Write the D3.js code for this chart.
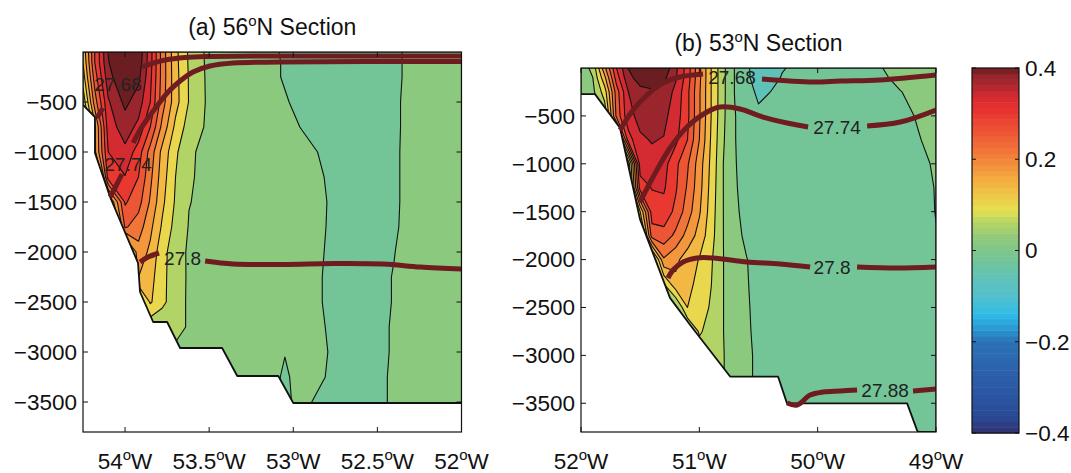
<!DOCTYPE html>
<html><head><meta charset="utf-8">
<script src="https://cdn.jsdelivr.net/npm/d3@7"></script>
<style>
body{margin:0;background:#fff}
svg{display:block}
text{font-family:"Liberation Sans",Arial,Helvetica,sans-serif;fill:#111}
</style>
</head><body>
<svg id="chart" width="1071" height="473"></svg>
<script>
// ---------------- DATA ----------------
const levels = [-0.08,-0.04,0,0.04,0.08,0.12,0.16,0.20,0.24,0.28,0.32,0.36,0.40];
const cmapValues = [-0.40,-0.37,-0.32,-0.26,-0.20,-0.17,-0.14,-0.10,-0.06,-0.03,0.00,0.03,0.06,0.09,0.11,0.15,0.19,0.23,0.27,0.31,0.34,0.36,0.38,0.40];
const cmapColors = ["#32306c","#2a4792","#2a55a2","#2c62ad","#2b72b6","#2a9ad4","#30bce8","#54c0cc","#5fc2b8","#6ec49e","#7ec68a","#92ca7a","#b2d466","#e6e050","#ebd04a","#f4b040","#f38d3b","#f06c37","#ec4e34","#e8312f","#d42a31","#b0262e","#9a252c","#6b1e21"];
const cbarTicks = [0.4,0.2,0,-0.2,-0.4];
const cbarTickLabels = ["0.4","0.2","0","\u22120.2","\u22120.4"];
const depthTicks = [500,1000,1500,2000,2500,3000,3500];
const depthTickLabels = ["\u2212500","\u22121000","\u22121500","\u22122000","\u22122500","\u22123000","\u22123500"];

// panel (a) 56N
const aLon = [-54.25,-54.18,-54.10,-54.00,-53.92,-53.85,-53.78,-53.70,-53.62,-53.50,-53.35,-53.20,-53.05,-52.95,-52.85,-52.75,-52.55,-52.40,-52.30,-52.15,-52.00];
const aDepth = [0,100,250,500,750,1000,1250,1500,1750,2000,2250,2500,2750,3000,3250,3500,3800];
const aVal = [
 [.13,.28,.401,.46,.43,.336,.224,.131,.074,.028,.02,.01,-.003,-.008,-.01,-.012,-.012,-.007,.008,.015,.02],
 [.12,.28,.398,.45,.425,.335,.225,.132,.075,.029,.02,.01,-.002,-.008,-.01,-.012,-.012,-.007,.008,.015,.02],
 [.10,.26,.385,.44,.41,.33,.225,.134,.077,.03,.02,.01,-.002,-.008,-.01,-.012,-.012,-.007,.008,.015,.02],
 [.05,.22,.355,.41,.38,.32,.22,.135,.078,.031,.021,.012,.002,-.006,-.01,-.012,-.012,-.006,.01,.015,.02],
 [0,.15,.34,.38,.35,.28,.19,.11,.062,.032,.022,.014,.008,-.001,-.008,-.011,-.012,-.006,.01,.015,.02],
 [0,.15,.32,.35,.30,.224,.149,.088,.044,.032,.024,.016,.012,.008,-.0005,-.008,-.01,-.004,.008,.014,.02],
 [0,0,.30,.318,.28,.21,.14,.08,.043,.032,.024,.016,.012,.009,.003,-.006,-.01,-.004,.008,.014,.02],
 [0,0,.10,.285,.255,.195,.13,.075,.041,.032,.024,.016,.012,.009,.004,-.004,-.01,-.004,.008,.014,.02],
 [0,0,0,.245,.22,.17,.115,.066,.038,.031,.024,.016,.012,.009,.004,-.005,-.01,-.003,.008,.014,.02],
 [0,0,0,.05,.185,.151,.095,.056,.035,.03,.024,.016,.012,.008,.003,-.006,-.008,-.0005,.008,.014,.02],
 [0,0,0,0,.16,.135,.092,.057,.035,.03,.024,.016,.012,.008,.002,-.007,-.008,.001,.008,.014,.02],
 [0,0,0,0,.05,.125,.09,.058,.034,.03,.024,.016,.012,.008,.002,-.007,-.008,.001,.008,.014,.02],
 [0,0,0,0,0,.05,.05,.055,.035,.03,.024,.016,.012,.008,.004,-.006,-.008,.002,.008,.014,.02],
 [0,0,0,0,0,0,0,.03,.03,.03,.025,.018,.001,.008,.005,-.004,-.008,.002,.008,.014,.02],
 [0,0,0,0,0,0,0,0,.02,.02,.02,.018,-.004,.01,.004,-.006,-.008,.003,.008,.014,.02],
 [0,0,0,0,0,0,0,0,.02,.02,.02,.018,-.004,.006,-.004,-.008,-.008,.003,.008,.014,.02],
 [0,0,0,0,0,0,0,0,.02,.02,.02,.018,-.004,.006,-.004,-.008,-.008,.003,.008,.014,.02]
];
const aBathyLon = [-54.25,-54.179,-54.179,-54.089,-53.923,-53.911,-53.833,-53.75,-53.673,-53.423,-53.333,-53.089,-53.0,-52.0];
const aBathyDepth = [530,650,1010,1450,2110,2400,2700,2700,2960,2960,3240,3240,3510,3510];
const aXTicks = [-54,-53.5,-53,-52.5,-52];
const aXTickLabels = ["54","53.5","53","52.5","52"];

// panel (b) 53N
const bLon = [-52.0,-51.9,-51.8,-51.7,-51.6,-51.5,-51.4,-51.3,-51.2,-51.1,-51.0,-50.9,-50.8,-50.7,-50.6,-50.5,-50.3,-50.1,-49.8,-49.5,-49.3,-49.15,-49.0];
const bDepth = [0,100,250,500,750,1000,1250,1500,1750,2000,2250,2500,2750,3000,3250,3500,3800];
const bVal = [
 [.02,.05,.19,.32,.401,.43,.445,.43,.37,.30,.21,.12,.05,-.002,-.03,-.07,-.042,-.03,-.02,-.005,.015,.02,.025],
 [.02,.04,.15,.30,.39,.415,.42,.41,.365,.30,.21,.12,.05,-.002,-.03,-.065,-.038,-.03,-.02,-.01,.01,.02,.025],
 [.02,.03,.10,.26,.36,.39,.395,.385,.35,.29,.205,.12,.05,-.002,-.03,-.045,-.035,-.03,-.02,-.015,-.001,.01,.02],
 [0,0,.05,.25,.35,.37,.375,.37,.34,.29,.205,.12,.048,.002,-.027,-.035,-.03,-.03,-.025,-.015,-.01,.003,.015],
 [0,0,0,.05,.30,.355,.362,.358,.33,.28,.20,.115,.045,.002,-.025,-.033,-.03,-.03,-.025,-.018,-.015,-.002,.01],
 [0,0,0,0,.05,.34,.35,.335,.29,.245,.18,.11,.041,.003,-.02,-.03,-.03,-.03,-.028,-.022,-.018,-.01,.005],
 [0,0,0,0,.03,.30,.322,.325,.285,.235,.175,.105,.041,.005,-.018,-.028,-.03,-.03,-.03,-.025,-.02,-.015,.002],
 [0,0,0,0,0,.12,.30,.305,.27,.22,.165,.10,.041,.008,-.014,-.025,-.03,-.03,-.03,-.028,-.025,-.02,.0015],
 [0,0,0,0,0,.03,.26,.265,.23,.185,.145,.095,.041,.012,-.008,-.022,-.028,-.03,-.03,-.03,-.028,-.024,-.002],
 [0,0,0,0,0,0,.03,.195,.17,.14,.118,.085,.041,.02,.001,-.012,-.02,-.025,-.028,-.03,-.03,-.028,-.008],
 [0,0,0,0,0,0,0,.081,.15,.13,.11,.081,.041,.02,.002,-.01,-.018,-.023,-.027,-.03,-.03,-.03,-.012],
 [0,0,0,0,0,0,0,0,.03,.12,.10,.075,.041,.02,.003,-.008,-.016,-.022,-.026,-.03,-.03,-.03,-.015],
 [0,0,0,0,0,0,0,0,0,.03,.085,.065,.041,.02,.004,-.007,-.015,-.02,-.025,-.028,-.03,-.03,-.018],
 [0,0,0,0,0,0,0,0,0,0,.06,.055,.042,.022,.006,-.006,-.014,-.02,-.024,-.027,-.03,-.03,-.02],
 [0,0,0,0,0,0,0,0,0,0,.06,.055,.042,.022,.006,-.006,-.014,-.02,-.024,-.027,-.03,-.03,-.02],
 [0,0,0,0,0,0,0,0,0,0,.06,.055,.042,.022,.006,-.006,-.014,-.02,-.024,-.027,-.03,-.03,-.02],
 [0,0,0,0,0,0,0,0,0,0,.06,.055,.042,.022,.006,-.006,-.014,-.02,-.024,-.027,-.03,-.03,-.02]
];
const bBathyLon = [-52.0,-51.882,-51.670,-51.501,-51.248,-51.079,-50.740,-50.335,-50.259,-49.244,-49.160,-49.15,-49.0];
const bBathyDepth = [273,273,626,1581,2400,2681,3221,3221,3501,3501,3783,3800,3800];
const bXTicks = [-52,-51,-50,-49];
const bXTickLabels = ["52","51","50","49"];

// isopycnals (lon, depth), each split around its label
const aIso = [
 {lon:[-54.166,-54.149,-54.131], depth:[660,610,560]},
 {lon:[-53.899,-53.851,-53.762,-53.643,-53.495,-53.197,-52.0], depth:[150,120,80,55,45,40,40]},
 {lon:[-54.089,-54.054,-54.018], depth:[1450,1340,1220]},
 {lon:[-53.952,-53.911,-53.863,-53.810,-53.744,-53.673,-53.596,-53.495,-53.358,-53.078,-52.0], depth:[910,780,660,540,400,290,200,140,110,100,95]},
 {lon:[-53.911,-53.863,-53.798], depth:[2100,2050,2010]},
 {lon:[-53.524,-53.358,-53.061,-52.763,-52.466,-52.246,-52.0], depth:[2090,2120,2125,2115,2120,2150,2170]}
];
const aIsoLabels = ["27.68","27.74","27.8"];
const aIsoLabelLon = [-54.042,-53.982,-53.658];
const aIsoLabelDepth = [320,1120,2065];

const bIso = [
 {lon:[-51.670,-51.560,-51.442,-51.307,-51.163,-50.969], depth:[647,438,282,157,94,63]},
 {lon:[-50.470,-50.039,-49.811,-49.473,-49.0], depth:[115,146,136,125,73]},
 {lon:[-51.501,-51.391,-51.248,-51.104,-50.935,-50.825,-50.656,-50.462,-50.259,-50.081], depth:[1399,1138,835,616,459,407,428,512,574,616]},
 {lon:[-49.582,-49.303,-49.0], depth:[605,564,438]},
 {lon:[-51.265,-51.222,-51.138,-51.019,-50.884,-50.597,-50.318,-50.064], depth:[2192,2109,2025,1983,1983,2025,2046,2077]},
 {lon:[-49.667,-49.329,-49.0], depth:[2077,2088,2077]},
 {lon:[-50.259,-50.174,-50.064,-49.954,-49.811,-49.667], depth:[3497,3518,3414,3382,3372,3362]},
 {lon:[-49.194,-49.0], depth:[3372,3351]}
];
const bIsoLabels = ["27.68","27.74","27.8","27.88"];
const bIsoLabelLon = [-50.724,-49.836,-49.878,-49.430];
const bIsoLabelDepth = [99,621,2077,3366];

// ---------------- DRAW ----------------
const svg = d3.select("#chart");
const cmap = d3.scaleLinear().domain(cmapValues).range(cmapColors).interpolate(d3.interpolateRgb).clamp(true);
const bandColor = t => cmap(Math.min(0.40, t + 0.02));
const FS = 22.5;
const isoColor = "#6f1c21";

function degLabel(sel, num, suffix) {
  sel.append("tspan").text(num);
  sel.append("tspan").attr("font-size", 15).attr("dy", -9).text("o");
  sel.append("tspan").attr("dy", 9).text(suffix);
}

function drawPanel(cfg) {
  const {lons, depths, vals, xs, ys, bLon, bDep, id, xticks, xlabels, title, iso, isoLab, isoLabLon, isoLabDep} = cfg;
  const g = svg.append("g");
  const n = lons.length, m = depths.length;
  const fx = d3.scaleLinear().domain(d3.range(n)).range(lons);
  const fy = d3.scaleLinear().domain(d3.range(m)).range(depths);
  const tr = d3.geoTransform({point(x, y) {
    const ix = Math.max(0, Math.min(n - 1, x - 0.5));
    const iy = Math.max(0, Math.min(m - 1, y - 0.5));
    this.stream.point(xs(fx(ix)), ys(fy(iy)));
  }});
  const path = d3.geoPath(tr);
  const polys = d3.contours().size([n, m]).thresholds(levels)(vals.flat());

  const [x0, x1] = xs.range(), [y0, y1] = ys.range();
  const lonMin = xs.domain()[0], lonMax = xs.domain()[1];
  const clipPts = [[lonMin, 0], [lonMax, 0]];
  for (let i = bLon.length - 1; i >= 0; i--) clipPts.push([bLon[i], bDep[i]]);
  const lineGen = d3.line().x(d => xs(d[0])).y(d => ys(d[1]));
  svg.append("defs").append("clipPath").attr("id", id)
    .append("path").attr("d", lineGen(clipPts) + "Z");
  svg.append("defs").append("clipPath").attr("id", id + "box")
    .append("rect").attr("x", x0).attr("y", y0).attr("width", x1 - x0).attr("height", y1 - y0);

  g.append("g").attr("clip-path", `url(#${id})`)
    .selectAll("path").data(polys).join("path")
    .attr("d", path)
    .attr("fill", d => bandColor(d.value))
    .attr("stroke", "#111").attr("stroke-width", 1.1).attr("stroke-linejoin", "round");

  // bathymetry outline
  g.append("path").attr("clip-path", `url(#${id}box)`)
    .attr("d", lineGen(bLon.map((l, i) => [l, bDep[i]])))
    .attr("fill", "none").attr("stroke", "#111").attr("stroke-width", 1.8).attr("stroke-linejoin", "round");

  // isopycnals
  const isoLine = d3.line().x(d => xs(d[0])).y(d => ys(d[1])).curve(d3.curveCatmullRom.alpha(0.5));
  g.append("g").attr("clip-path", `url(#${id}box)`)
    .selectAll("path").data(iso).join("path")
    .attr("d", s => isoLine(s.lon.map((l, i) => [l, s.depth[i]])))
    .attr("fill", "none").attr("stroke", isoColor).attr("stroke-width", 5).attr("stroke-linecap", "butt");
  g.selectAll("text.iso").data(isoLab).join("text").attr("class", "iso")
    .attr("x", (d, i) => xs(isoLabLon[i])).attr("y", (d, i) => ys(isoLabDep[i]))
    .attr("dy", "0.36em").attr("text-anchor", "middle").attr("font-size", 19)
    .style("fill", "#222").text(d => d);

  // frame
  g.append("rect").attr("x", x0).attr("y", y0).attr("width", x1 - x0).attr("height", y1 - y0)
    .attr("fill", "none").attr("stroke", "#111").attr("stroke-width", 1.2);
  // ticks
  const tk = 5;
  depthTicks.forEach((d, i) => {
    const y = ys(d);
    g.append("line").attr("x1", x0).attr("x2", x0 + tk).attr("y1", y).attr("y2", y).attr("stroke", "#111");
    g.append("line").attr("x1", x1).attr("x2", x1 - tk).attr("y1", y).attr("y2", y).attr("stroke", "#111");
    g.append("text").attr("x", x0 - 6).attr("y", y).attr("dy", "0.35em").attr("text-anchor", "end")
      .attr("font-size", FS).text(depthTickLabels[i]);
  });
  xticks.forEach((v, i) => {
    const x = xs(v);
    g.append("line").attr("x1", x).attr("x2", x).attr("y1", y1).attr("y2", y1 - tk).attr("stroke", "#111");
    g.append("line").attr("x1", x).attr("x2", x).attr("y1", y0).attr("y2", y0 + tk).attr("stroke", "#111");
    const t = g.append("text").attr("x", x).attr("y", 469).attr("text-anchor", "middle").attr("font-size", FS);
    degLabel(t, xlabels[i], "W");
  });
  const tt = g.append("text").attr("x", (x0 + x1) / 2).attr("y", y0 - 17).attr("text-anchor", "middle").attr("font-size", 23);
  tt.append("tspan").text(title[0]);
  tt.append("tspan").attr("font-size", 15).attr("dy", -9).text("o");
  tt.append("tspan").attr("dy", 9).text(title[1]);
}

drawPanel({
  lons: aLon, depths: aDepth, vals: aVal,
  xs: d3.scaleLinear().domain([-54.25, -52]).range([83, 461.5]),
  ys: d3.scaleLinear().domain([0, 3800]).range([52, 432]),
  bLon: aBathyLon, bDep: aBathyDepth, id: "clipA",
  xticks: aXTicks, xlabels: aXTickLabels, title: ["(a) 56", "N Section"],
  iso: aIso, isoLab: aIsoLabels, isoLabLon: aIsoLabelLon, isoLabDep: aIsoLabelDepth
});
drawPanel({
  lons: bLon, depths: bDepth, vals: bVal,
  xs: d3.scaleLinear().domain([-52, -49]).range([581, 936]),
  ys: d3.scaleLinear().domain([0, 3800]).range([68, 432]),
  bLon: bBathyLon, bDep: bBathyDepth, id: "clipB",
  xticks: bXTicks, xlabels: bXTickLabels, title: ["(b) 53", "N Section"],
  iso: bIso, isoLab: bIsoLabels, isoLabLon: bIsoLabelLon, isoLabDep: bIsoLabelDepth
});

// colorbar
const cb = svg.append("g");
const cy = d3.scaleLinear().domain([-0.4, 0.4]).range([433, 68]);
const nSteps = 64;
const steps = d3.range(nSteps).map(i => -0.4 + (i + 0.5) * 0.8 / nSteps);
cb.selectAll("rect.s").data(steps).join("rect").attr("class", "s")
  .attr("x", 972).attr("width", 47)
  .attr("y", d => cy(d + 0.4 / nSteps)).attr("height", d => cy(d - 0.4 / nSteps) - cy(d + 0.4 / nSteps) + 0.5)
  .attr("fill", d => cmap(d));
cb.append("rect").attr("x", 972).attr("y", 68).attr("width", 47).attr("height", 365)
  .attr("fill", "none").attr("stroke", "#111").attr("stroke-width", 1.2);
cbarTicks.forEach((v, i) => {
  const y = cy(v);
  cb.append("line").attr("x1", 972).attr("x2", 976).attr("y1", y).attr("y2", y).attr("stroke", "#111");
  cb.append("line").attr("x1", 1019).attr("x2", 1015).attr("y1", y).attr("y2", y).attr("stroke", "#111");
  cb.append("text").attr("x", 1025).attr("y", y).attr("dy", "0.35em").attr("font-size", FS).text(cbarTickLabels[i]);
});
</script>
</body></html>
